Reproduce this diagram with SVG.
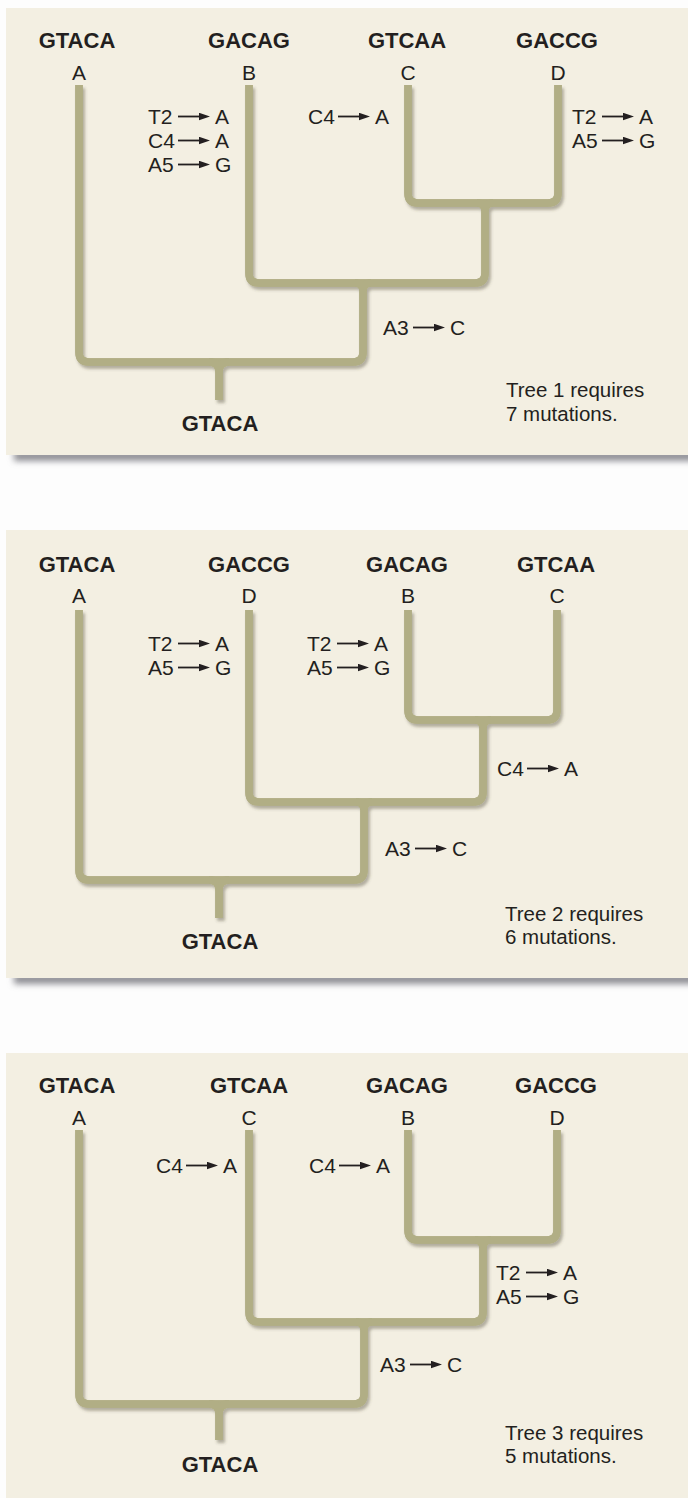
<svg xmlns="http://www.w3.org/2000/svg" xmlns:xlink="http://www.w3.org/1999/xlink" width="688" height="1498" viewBox="0 0 688 1498">
<style>
text{font-family:"Liberation Sans",Arial,Helvetica,sans-serif;fill:#231f20}
.seq{font-size:22px;font-weight:bold;text-anchor:middle}
.lf{font-size:21px;text-anchor:middle}
.mut{font-size:21px}
.note{font-size:20.5px}
.arr{stroke:#231f20;stroke-width:1.8;fill:none;marker-end:url(#ah)}
.panel{fill:#f3efe2}
.pshadow{fill:#8e8e94;filter:url(#pblur)}
.tube-o path{fill:none;stroke:#b1ae85;stroke-width:7.5}
.tube-i use{fill:none;stroke:#d7d4b0;stroke-width:3}
</style>
<defs>
<marker id="ah" markerUnits="userSpaceOnUse" markerWidth="12" markerHeight="8" refX="0" refY="3.75" orient="auto">
<path d="M0,0 L11,3.75 L0,7.5 Z" fill="#231f20"/>
</marker>
<filter id="sh" x="-10%" y="-10%" width="120%" height="120%">
<feDropShadow dx="2" dy="3" stdDeviation="1.6" flood-color="#4d4a38" flood-opacity="0.4"/>
</filter>
<filter id="pblur" x="-5%" y="-100%" width="110%" height="300%">
<feGaussianBlur stdDeviation="3"/>
</filter>
</defs>
<rect width="688" height="1498" fill="#fdfdfd"/>

<g id="panels">
<rect class="pshadow" x="14" y="451" width="690" height="10"/>
<rect class="panel" x="6" y="8" width="682" height="447"/>
<rect class="pshadow" x="14" y="974" width="690" height="10"/>
<rect class="panel" x="6" y="530" width="682" height="448"/>
<rect class="panel" x="6" y="1053" width="682" height="447"/>
</g>

<g id="connectors" filter="url(#sh)">
<g class="tube-o">
<path id="t1a" d="M79,85 V352 Q79,362 89,362 H353 Q363,362 363,352 V283"/>
<path id="t1b" d="M249,85 V273 Q249,283 259,283 H475 Q485,283 485,273 V203"/>
<path id="t1c" d="M408,85 V193 Q408,203 418,203 H548 Q558,203 558,193 V85"/>
<path id="t1r" d="M209,362 Q219,362 219,372 V400 M229,362 Q219,362 219,372 M355,283 Q363,283 363,291 M371,283 Q363,283 363,291 M477,203 Q485,203 485,211 M493,203 Q485,203 485,211"/>
<path id="t2a" d="M79,610 V870 Q79,880 89,880 H354 Q364,880 364,870 V802"/>
<path id="t2b" d="M249,610 V792 Q249,802 259,802 H473 Q483,802 483,792 V720"/>
<path id="t2c" d="M408,610 V710 Q408,720 418,720 H547 Q557,720 557,710 V610"/>
<path id="t2r" d="M209,880 Q219,880 219,890 V918 M229,880 Q219,880 219,890 M356,802 Q364,802 364,810 M372,802 Q364,802 364,810 M475,720 Q483,720 483,728 M491,720 Q483,720 483,728"/>
<path id="t3a" d="M79,1130 V1394 Q79,1404 89,1404 H354 Q364,1404 364,1394 V1322"/>
<path id="t3b" d="M249,1130 V1312 Q249,1322 259,1322 H473 Q483,1322 483,1312 V1240"/>
<path id="t3c" d="M408,1130 V1230 Q408,1240 418,1240 H547 Q557,1240 557,1230 V1130"/>
<path id="t3r" d="M209,1404 Q219,1404 219,1414 V1440 M229,1404 Q219,1404 219,1414 M356,1322 Q364,1322 364,1330 M372,1322 Q364,1322 364,1330 M475,1240 Q483,1240 483,1248 M491,1240 Q483,1240 483,1248"/>
</g>
<g class="tube-i">
<use xlink:href="#t1a"/><use xlink:href="#t1b"/><use xlink:href="#t1c"/><use xlink:href="#t1r"/>
<use xlink:href="#t2a"/><use xlink:href="#t2b"/><use xlink:href="#t2c"/><use xlink:href="#t2r"/>
<use xlink:href="#t3a"/><use xlink:href="#t3b"/><use xlink:href="#t3c"/><use xlink:href="#t3r"/>
</g>
</g>

<g id="tree1">
<g id="t1-leaf-A"><text class="seq" x="77" y="48">GTACA</text><text class="lf" x="79" y="80">A</text></g>
<g id="t1-leaf-B"><text class="seq" x="249" y="48">GACAG</text><text class="lf" x="249" y="80">B</text></g>
<g id="t1-leaf-C"><text class="seq" x="407" y="48">GTCAA</text><text class="lf" x="408" y="80">C</text></g>
<g id="t1-leaf-D"><text class="seq" x="557" y="48">GACCG</text><text class="lf" x="558" y="80">D</text></g>
<g id="t1-m1" transform="translate(148,124)"><text class="mut">T2</text><line class="arr" x1="30" y1="-7.5" x2="51" y2="-7.5"/><text class="mut" x="67">A</text></g>
<g id="t1-m2" transform="translate(148,148)"><text class="mut">C4</text><line class="arr" x1="30" y1="-7.5" x2="51" y2="-7.5"/><text class="mut" x="67">A</text></g>
<g id="t1-m3" transform="translate(148,172)"><text class="mut">A5</text><line class="arr" x1="30" y1="-7.5" x2="51" y2="-7.5"/><text class="mut" x="67">G</text></g>
<g id="t1-m4" transform="translate(308,124)"><text class="mut">C4</text><line class="arr" x1="30" y1="-7.5" x2="51" y2="-7.5"/><text class="mut" x="67">A</text></g>
<g id="t1-m5" transform="translate(572,124)"><text class="mut">T2</text><line class="arr" x1="30" y1="-7.5" x2="51" y2="-7.5"/><text class="mut" x="67">A</text></g>
<g id="t1-m6" transform="translate(572,148)"><text class="mut">A5</text><line class="arr" x1="30" y1="-7.5" x2="51" y2="-7.5"/><text class="mut" x="67">G</text></g>
<g id="t1-m7" transform="translate(383,335)"><text class="mut">A3</text><line class="arr" x1="30" y1="-7.5" x2="51" y2="-7.5"/><text class="mut" x="67">C</text></g>
<g id="t1-root"><text class="seq" x="220" y="431">GTACA</text></g>
<g id="t1-note"><text class="note" x="506" y="397">Tree 1 requires</text><text class="note" x="506" y="421">7 mutations.</text></g>
</g>

<g id="tree2">
<g id="t2-leaf-A"><text class="seq" x="77" y="572">GTACA</text><text class="lf" x="79" y="603">A</text></g>
<g id="t2-leaf-D"><text class="seq" x="249" y="572">GACCG</text><text class="lf" x="249" y="603">D</text></g>
<g id="t2-leaf-B"><text class="seq" x="407" y="572">GACAG</text><text class="lf" x="408" y="603">B</text></g>
<g id="t2-leaf-C"><text class="seq" x="556" y="572">GTCAA</text><text class="lf" x="557" y="603">C</text></g>
<g id="t2-m1" transform="translate(148,651)"><text class="mut">T2</text><line class="arr" x1="30" y1="-7.5" x2="51" y2="-7.5"/><text class="mut" x="67">A</text></g>
<g id="t2-m2" transform="translate(148,675)"><text class="mut">A5</text><line class="arr" x1="30" y1="-7.5" x2="51" y2="-7.5"/><text class="mut" x="67">G</text></g>
<g id="t2-m3" transform="translate(307,651)"><text class="mut">T2</text><line class="arr" x1="30" y1="-7.5" x2="51" y2="-7.5"/><text class="mut" x="67">A</text></g>
<g id="t2-m4" transform="translate(307,675)"><text class="mut">A5</text><line class="arr" x1="30" y1="-7.5" x2="51" y2="-7.5"/><text class="mut" x="67">G</text></g>
<g id="t2-m5" transform="translate(497,776)"><text class="mut">C4</text><line class="arr" x1="30" y1="-7.5" x2="51" y2="-7.5"/><text class="mut" x="67">A</text></g>
<g id="t2-m6" transform="translate(385,856)"><text class="mut">A3</text><line class="arr" x1="30" y1="-7.5" x2="51" y2="-7.5"/><text class="mut" x="67">C</text></g>
<g id="t2-root"><text class="seq" x="220" y="949">GTACA</text></g>
<g id="t2-note"><text class="note" x="505" y="921">Tree 2 requires</text><text class="note" x="505" y="944">6 mutations.</text></g>
</g>

<g id="tree3">
<g id="t3-leaf-A"><text class="seq" x="77" y="1093">GTACA</text><text class="lf" x="79" y="1125">A</text></g>
<g id="t3-leaf-C"><text class="seq" x="249" y="1093">GTCAA</text><text class="lf" x="249" y="1125">C</text></g>
<g id="t3-leaf-B"><text class="seq" x="407" y="1093">GACAG</text><text class="lf" x="408" y="1125">B</text></g>
<g id="t3-leaf-D"><text class="seq" x="556" y="1093">GACCG</text><text class="lf" x="557" y="1125">D</text></g>
<g id="t3-m1" transform="translate(156,1173)"><text class="mut">C4</text><line class="arr" x1="30" y1="-7.5" x2="51" y2="-7.5"/><text class="mut" x="67">A</text></g>
<g id="t3-m2" transform="translate(309,1173)"><text class="mut">C4</text><line class="arr" x1="30" y1="-7.5" x2="51" y2="-7.5"/><text class="mut" x="67">A</text></g>
<g id="t3-m3" transform="translate(496,1280)"><text class="mut">T2</text><line class="arr" x1="30" y1="-7.5" x2="51" y2="-7.5"/><text class="mut" x="67">A</text></g>
<g id="t3-m4" transform="translate(496,1304)"><text class="mut">A5</text><line class="arr" x1="30" y1="-7.5" x2="51" y2="-7.5"/><text class="mut" x="67">G</text></g>
<g id="t3-m5" transform="translate(380,1372)"><text class="mut">A3</text><line class="arr" x1="30" y1="-7.5" x2="51" y2="-7.5"/><text class="mut" x="67">C</text></g>
<g id="t3-root"><text class="seq" x="220" y="1472">GTACA</text></g>
<g id="t3-note"><text class="note" x="505" y="1440">Tree 3 requires</text><text class="note" x="505" y="1463">5 mutations.</text></g>
</g>
</svg>
